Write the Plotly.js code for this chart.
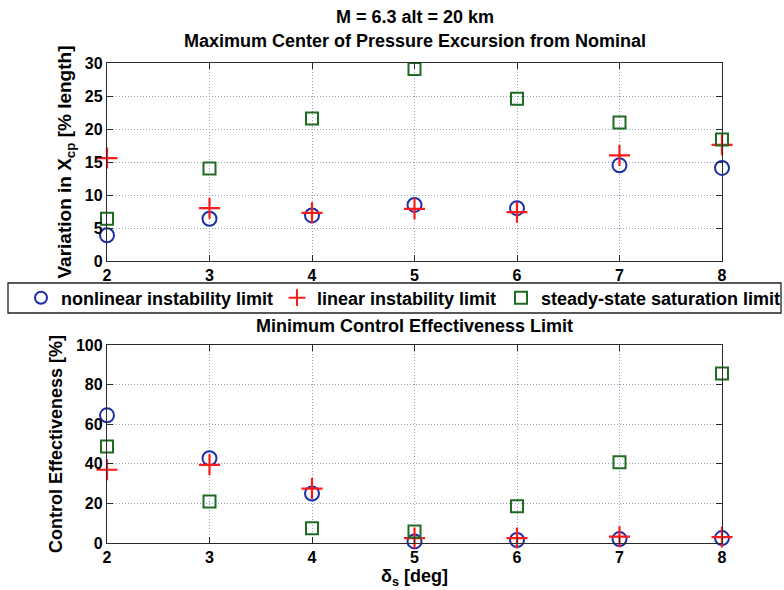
<!DOCTYPE html>
<html>
<head>
<meta charset="utf-8">
<script src="https://cdn.plot.ly/plotly-3.0.1.min.js"></script>
<style>html,body{margin:0;padding:0;background:#fff;}#chart{width:784px;height:590px;}</style>
</head>
<body>
<div id="chart"></div>
<script>
const deflection = [2, 3, 4, 5, 6, 7, 8];

// Top panel: variation in Xcp [% length]
const xcpNonlinear = [3.9, 6.4, 6.9, 8.5, 8.0, 14.5, 14.1];
const xcpLinear    = [15.6, 8.0, 7.3, 7.9, 7.4, 16.0, 17.6];
const xcpSteady    = [6.4, 14.0, 21.6, 29.1, 24.6, 21.0, 18.4];

// Bottom panel: control effectiveness [%]
const ceNonlinear = [64.5, 42.8, 25.0, 0.8, 1.5, 2.0, 2.5];
const ceLinear    = [37.0, 39.5, 27.5, 2.5, 2.5, 3.2, 3.0];
const ceSteady    = [48.8, 21.0, 7.5, 5.8, 18.5, 40.8, 85.6];

const seriesNames = ['nonlinear instability limit', 'linear instability limit', 'steady-state saturation limit'];
const xTicks = [2, 3, 4, 5, 6, 7, 8];
const topTicks = [0, 5, 10, 15, 20, 25, 30];
const bottomTicks = [0, 20, 40, 60, 80, 100];

const BLUE = '#1c2fa6', RED = '#ff1a1a', GREEN = '#1f6b22';
const styles = [
  {symbol: 'circle-open', size: 14, color: BLUE, width: 2},
  {symbol: 'cross-thin-open', size: 15, color: RED, width: 2.2},
  {symbol: 'square-open', size: 12, color: GREEN, width: 2}
];
const legendIds = ['legend', 'legend2', 'legend3'];
function tr(y, i, xa, ya, show) {
  const s = styles[i];
  return {x: deflection, y: y, type: 'scatter', mode: 'markers', name: seriesNames[i],
    legend: legendIds[i], legendgroup: 'g' + i, showlegend: show, xaxis: xa, yaxis: ya, cliponaxis: false,
    marker: {symbol: s.symbol, size: s.size, color: s.color, line: {color: s.color, width: s.width}}};
}
const data = [
  tr(xcpNonlinear, 0, 'x', 'y', true),
  tr(xcpLinear, 1, 'x', 'y', true),
  tr(xcpSteady, 2, 'x', 'y', true),
  tr(ceNonlinear, 0, 'x2', 'y2', false),
  tr(ceLinear, 1, 'x2', 'y2', false),
  tr(ceSteady, 2, 'x2', 'y2', false)
];

const FONT = '"Liberation Sans Narrow", "Arial Narrow", "Liberation Sans", Arial, sans-serif';
const textFont = {family: FONT, size: 18, color: '#000', weight: 'bold'};
const tickFont = {family: FONT, size: 16, color: '#000', weight: 'bold'};
const axBase = {showline: true, linecolor: '#2a2a2a', linewidth: 1.2, mirror: 'ticks', ticks: 'inside', ticklen: 6,
  tickcolor: '#2a2a2a', showgrid: true, gridcolor: '#8fa3bb', griddash: '1px,2px', gridwidth: 1, zeroline: false,
  tickfont: tickFont};

const PL = 107, PW = 615;
function legendAt(px) {
  return {orientation: 'h', x: (px - PL) / PW, xanchor: 'left', y: 0.5104, yanchor: 'middle',
    borderwidth: 0, bgcolor: 'rgba(0,0,0,0)', font: textFont, itemsizing: 'constant'};
}

const layout = {
  width: 784, height: 590,
  margin: {l: 107, r: 62, t: 63, b: 47, autoexpand: false},
  paper_bgcolor: '#fff', plot_bgcolor: '#fff',
  font: {family: FONT, color: '#000'},
  showlegend: true,
  legend: legendAt(21),
  legend2: legendAt(277),
  legend3: legendAt(501),
  xaxis: Object.assign({}, axBase, {domain: [0, 1], range: [2, 8], tickvals: xTicks, anchor: 'y'}),
  yaxis: Object.assign({}, axBase, {domain: [0.5875, 1], range: [0, 30], tickvals: topTicks, anchor: 'x',
    title: {text: 'Variation in X<sub>cp</sub> [% length]', font: Object.assign({}, textFont, {size: 19}), standoff: 8}}),
  xaxis2: Object.assign({}, axBase, {domain: [0, 1], range: [2, 8], tickvals: xTicks, anchor: 'y2',
    title: {text: 'δ<sub>s</sub> [deg]', font: textFont, standoff: 2}}),
  yaxis2: Object.assign({}, axBase, {domain: [0, 0.4125], range: [0, 100], tickvals: bottomTicks, anchor: 'x2',
    title: {text: 'Control Effectiveness [%]', font: textFont, standoff: 8}}),
  shapes: [
    {type: 'rect', xref: 'paper', yref: 'paper', x0: (8 - PL) / PW, x1: (781 - PL) / PW,
      y0: (543 - 313) / 480, y1: (543 - 283) / 480, line: {color: '#222', width: 1.3}, layer: 'above'}
  ],
  annotations: [
    {text: 'M = 6.3 alt = 20 km', xref: 'paper', yref: 'paper', x: 0.5, y: 1, yshift: 46, showarrow: false,
      font: textFont, xanchor: 'center', yanchor: 'middle'},
    {text: 'Maximum Center of Pressure Excursion from Nominal', xref: 'paper', yref: 'paper', x: 0.5, y: 1, yshift: 22,
      showarrow: false, font: textFont, xanchor: 'center', yanchor: 'middle'},
    {text: 'Minimum Control Effectiveness Limit', xref: 'paper', yref: 'paper', x: 0.5, y: 0.4125, yshift: 19,
      showarrow: false, font: textFont, xanchor: 'center', yanchor: 'middle'}
  ]
};

Plotly.newPlot('chart', data, layout, {displayModeBar: false, staticPlot: true});
</script>
</body>
</html>
